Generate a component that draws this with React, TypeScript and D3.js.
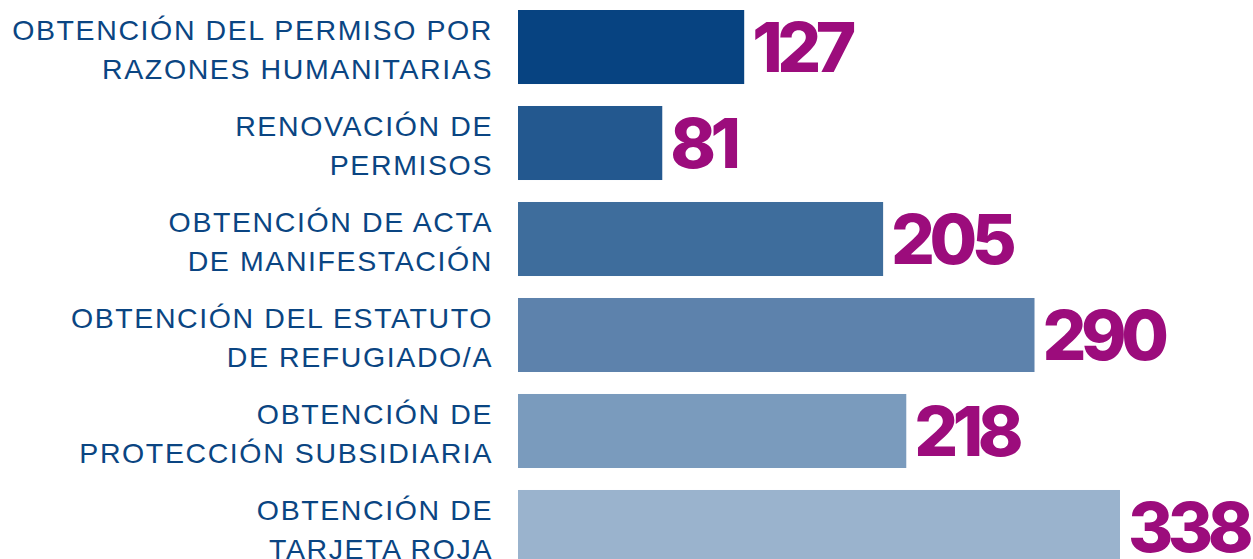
import React, { useEffect, useRef } from "react";
import * as d3 from "d3";

const categories: string[][] = [
  ["OBTENCIÓN DEL PERMISO POR", "RAZONES HUMANITARIAS"],
  ["RENOVACIÓN DE", "PERMISOS"],
  ["OBTENCIÓN DE ACTA", "DE MANIFESTACIÓN"],
  ["OBTENCIÓN DEL ESTATUTO", "DE REFUGIADO/A"],
  ["OBTENCIÓN DE", "PROTECCIÓN SUBSIDIARIA"],
  ["OBTENCIÓN DE", "TARJETA ROJA"],
];
const values: number[] = [127, 81, 205, 290, 218, 338];
const barColors: string[] = ["#074381", "#23588F", "#3E6D9C", "#5D82AC", "#7A9BBD", "#9AB3CD"];

const W = 1253;
const H = 559;

export default function App() {
  const ref = useRef<SVGSVGElement | null>(null);

  useEffect(() => {
    const svg = d3.select(ref.current);
    svg.selectAll("*").remove();
    const ids = categories.map((_, i) => String(i));
    const y = d3.scaleBand<string>().domain(ids).range([-1, 575]).paddingInner(0.229).paddingOuter(0.1146);
    const x = d3.scaleLinear().domain([0, 338]).range([518, 1120]);

    const g = svg.append("g");
    const rows = g.selectAll("g.row").data(values).join("g").attr("class", "row");

    rows
      .append("rect")
      .attr("x", x(0))
      .attr("y", (_, i) => y(ids[i]) as number)
      .attr("width", (d) => x(d) - x(0))
      .attr("height", y.bandwidth())
      .attr("fill", (_, i) => barColors[i]);

    rows
      .append("text")
      .attr("x", (d) => x(d) + 8)
      .attr("y", (_, i) => (y(ids[i]) as number) + y.bandwidth() / 2 + 25)
      .attr("font-family", "Inter, 'Liberation Sans', Arial, sans-serif")
      .attr("font-weight", 800)
      .attr("font-size", 69)
      .attr("letter-spacing", -5.5)
      .attr("fill", "#9C0C7C")
      .text((d) => String(d));

    rows.each(function (_, i) {
      const cy = (y(ids[i]) as number) + y.bandwidth() / 2;
      const t = d3
        .select(this)
        .append("text")
        .attr("text-anchor", "end")
        .attr("font-family", "'Liberation Sans', Arial, sans-serif")
        .attr("font-size", 28.5)
        .attr("letter-spacing", 1.6)
        .attr("fill", "#0A4582");
      categories[i].forEach((line, j) => {
        t.append("tspan")
          .attr("x", 493)
          .attr("y", cy - 7 + j * 39)
          .text(line);
      });
    });
  }, []);

  return (
    <svg
      ref={ref}
      width={W}
      height={H}
      style={{ position: "absolute", left: 0, top: 0, background: "#fff" }}
    />
  );
}
